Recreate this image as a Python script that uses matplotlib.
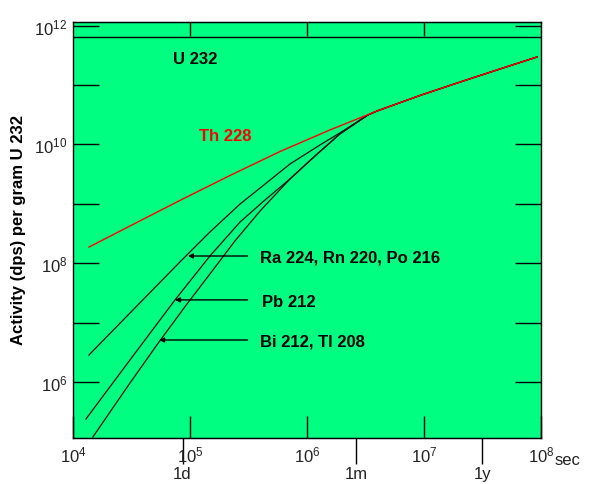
import matplotlib
matplotlib.use("Agg")
import matplotlib.pyplot as plt
from matplotlib.ticker import NullLocator

plt.rcParams['font.family'] = ['Liberation Sans', 'DejaVu Sans']
plt.rcParams['mathtext.fontset'] = 'custom'
plt.rcParams['mathtext.rm'] = 'Liberation Sans'
plt.rcParams['mathtext.it'] = 'Liberation Sans:italic'
plt.rcParams['mathtext.bf'] = 'Liberation Sans:bold'

# values (time in s, activity in dps per gram U 232)
u232_t = [1e4, 1e8]
u232_act = [6.43e11, 6.43e11]

th228_t = [1.37e4, 3.07e4, 8.21e4, 2.20e5, 5.88e5, 1.57e6, 3.97e6, 9.24e6,
           2.03e7, 4.46e7, 9.24e7]
th228_act = [1.87e8, 4.23e8, 1.14e9, 3.00e9, 7.59e9, 1.75e10, 3.65e10, 6.66e10,
             1.12e11, 1.86e11, 2.96e11]

# part shared by the daughters once they are in equilibrium with Th 228
eq_t = [3.32e6, 3.97e6, 9.24e6, 2.03e7, 4.46e7, 9.24e7]
eq_act = [3.13e10, 3.65e10, 6.66e10, 1.12e11, 1.86e11, 2.96e11]

ra224_t = [1.37e4, 3.07e4, 8.21e4, 1.48e5, 2.68e5, 4.38e5, 7.16e5, 1.29e6, 1.91e6] + eq_t
ra224_act = [2.85e6, 1.45e7, 1.05e8, 3.35e8, 9.92e8, 2.15e9, 4.68e9, 9.77e9, 1.56e10] + eq_act

pb212_t = [1.29e4, 3.07e4, 7.44e4, 1.48e5, 2.68e5, 4.38e5, 7.16e5, 1.17e6, 1.91e6] + eq_t
pb212_act = [2.38e5, 2.35e6, 2.40e7, 1.32e8, 4.94e8, 1.16e9, 2.62e9, 6.38e9, 1.50e10] + eq_act

bi212_t = [1.48e4, 3.07e4, 5.43e4, 9.43e4, 1.48e5, 2.42e5, 3.97e5, 7.16e5, 1.17e6, 1.91e6] + eq_t
bi212_act = [1.19e5, 9.62e5, 4.71e6, 2.06e7, 6.58e7, 2.36e8, 7.56e8, 2.62e9, 6.38e9, 1.50e10] + eq_act

x_ticks = [1e4, 1e5, 1e6, 1e7, 1e8]
x_labels = [r'$10^{4}$', r'$10^{5}$', r'$10^{6}$', r'$10^{7}$', r'$10^{8}$']
y_ticks = [1e6, 1e8, 1e10, 1e12]
y_labels = [r'$10^{6}$', r'$10^{8}$', r'$10^{10}$', r'$10^{12}$']
y_minor = [1e7, 1e9, 1e11]
time_marks = [86400, 2.63e6, 3.156e7]
time_labels = ['1d', '1m', '1y']

fig = plt.figure(figsize=(5.9, 4.85), dpi=100)
ax = fig.add_axes([0.1237, 0.0948, 0.7932, 0.8578])
ax.set_facecolor('#00FF80')
ax.set_xscale('log')
ax.set_yscale('log')

ax.plot(u232_t, u232_act, color='black', lw=1.0)
for t, a in [(ra224_t, ra224_act), (pb212_t, pb212_act), (bi212_t, bi212_act)]:
    ax.plot(t, a, color='#111111', lw=0.9)
ax.plot(th228_t, th228_act, color='red', lw=1.0)

ax.set_xlim(1e4, 1e8)
ax.set_ylim(1.14e5, 1.15e12)

tick_col = '#222222'
ax.set_xticks(x_ticks, x_labels)
ax.xaxis.set_minor_locator(NullLocator())
ax.tick_params(axis='x', direction='in', length=16, width=1, top=False,
               labelsize=12, pad=5, labelcolor=tick_col)
ax.set_yticks(y_ticks, y_labels)
ax.set_yticks(y_minor, minor=True)
ax.tick_params(axis='y', which='both', direction='in', length=19, width=1,
               right=True, labelsize=12, pad=4, labelcolor=tick_col)
ax.tick_params(axis='y', which='minor', labelleft=False)

top = ax.secondary_xaxis('top')
top.set_xticks(x_ticks[1:-1])
top.xaxis.set_minor_locator(NullLocator())
top.tick_params(direction='in', length=10, width=1, labeltop=False)

days = ax.secondary_xaxis('bottom')
days.set_xticks(time_marks, time_labels)
days.xaxis.set_minor_locator(NullLocator())
days.tick_params(direction='out', length=19, width=1, labelsize=12, pad=1,
                 labelcolor=tick_col)

ax.text(1.03, -0.052, 'sec', transform=ax.transAxes, fontsize=12,
        color=tick_col, ha='left', va='center')

for s in ax.spines.values():
    s.set_linewidth(1)

fig.text(0.031, 0.526, 'Activity (dps) per gram U 232', rotation=90,
         fontsize=12, fontweight='bold', ha='center', va='center')

ax.text(0.261, 0.913, 'U 232', transform=ax.transAxes, fontsize=12,
        fontweight='bold', ha='center', va='center')
ax.text(0.325, 0.726, 'Th 228', transform=ax.transAxes, fontsize=12,
        fontweight='bold', color='red', ha='center', va='center')

labels = ['Ra 224, Rn 220, Po 216', 'Pb 212', 'Bi 212, Tl 208']
label_pos = [(0.400, 0.435), (0.404, 0.327), (0.400, 0.233)]
arrow_tip = [(0.2457, 0.4375), (0.218, 0.332), (0.184, 0.2356)]
for lab, (lx, ly), (tx, ty) in zip(labels, label_pos, arrow_tip):
    ax.text(lx, ly, lab, transform=ax.transAxes, fontsize=12,
            fontweight='bold', ha='left', va='center')
    ax.annotate('', xy=(tx, ty), xytext=(0.373, ty), xycoords='axes fraction',
                arrowprops=dict(arrowstyle='-|>', color='black', lw=1,
                                mutation_scale=7, shrinkA=0, shrinkB=0))

fig.savefig('out.png', dpi=100, facecolor='white')
